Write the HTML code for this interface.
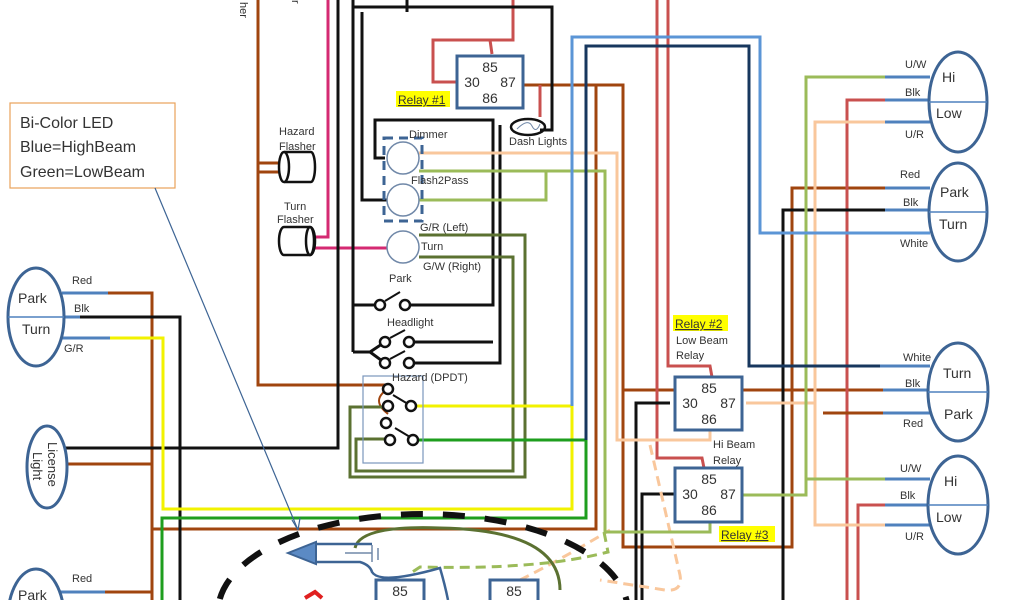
<!DOCTYPE html>
<html><head><meta charset="utf-8"><style>
html,body{margin:0;padding:0;background:#fff;width:1024px;height:600px;overflow:hidden;}
svg{display:block;}
text{font-family:"Liberation Sans",sans-serif;fill:#333;}
</style></head><body>
<svg width="1024" height="600" viewBox="0 0 1024 600" xmlns="http://www.w3.org/2000/svg">
<g fill="none" stroke-linejoin="miter">
<g stroke="#a0450f" stroke-width="3">
<polyline points="258,0 258,385 388,385"/>
<line x1="258" y1="163" x2="280" y2="163"/><line x1="258" y1="172" x2="280" y2="172"/>
<polyline points="523,85 623,85 623,547 792,547 792,188 885,188"/>
<polyline points="596,85 596,529 152,529"/>
<polyline points="108,293 152,293 152,600"/>
<line x1="66" y1="464" x2="152" y2="464"/>
<line x1="105" y1="592" x2="152" y2="592"/>
<polyline points="623,390 885,390"/>
<path d="M388,389 Q370,400 388,414" stroke-width="2"/>
</g>
<g stroke="#d42a72" stroke-width="3">
<polyline points="328,0 328,237 315,237"/>
<line x1="315" y1="248" x2="387" y2="248"/>
</g>
<g stroke="#c9504f" stroke-width="3">
<polyline points="457,82 433,82 433,40 513,40 513,0"/>
<line x1="490" y1="40" x2="492" y2="54"/>
<line x1="540" y1="85" x2="540" y2="117"/>
<polyline points="657,0 657,458 702,458 704,468"/>
<polyline points="668,0 668,366 710,366 712,377"/>
<polyline points="885,100 847,100 847,600"/>
<polyline points="885,505 858,505 858,600"/>
</g>
<g stroke="#111" stroke-width="3">
<polyline points="338,0 338,448 64,448"/>
<polyline points="353,0 353,352"/>
<polyline points="353,7 552,7 552,130 540,130"/>
<line x1="407" y1="0" x2="407" y2="12"/>
<polyline points="362,12 362,200 387,200"/>
<polyline points="385,158 375,158 375,120 493,120 493,305 408,305"/>
<polyline points="500,125 500,363 410,363"/>
<line x1="493" y1="342" x2="410" y2="342"/>
<line x1="353" y1="305" x2="380" y2="305"/>
<polyline points="353,352 370,352 385,342"/><polyline points="370,352 385,363"/>
<line x1="385" y1="301" x2="400" y2="292" stroke-width="2"/>
<line x1="390" y1="338" x2="405" y2="330" stroke-width="2"/>
<line x1="390" y1="359" x2="405" y2="351" stroke-width="2"/>
<line x1="393" y1="395" x2="408" y2="404" stroke-width="2"/>
<line x1="395" y1="428" x2="410" y2="437" stroke-width="2"/>
<polyline points="80,317 180,317 180,600"/>
<polyline points="670,403 636,403 636,600"/>
<polyline points="674,494 642,494 642,600"/>
<polyline points="885,210 783,210 783,600"/>
</g>
<g stroke="#f9c79c" stroke-width="3">
<polyline points="419,153 617,153 617,440 710,440 710,430"/>
<polyline points="885,122 815,122 815,525 885,525"/>
<line x1="746" y1="403" x2="815" y2="403"/>
<path d="M650,445 L680,575 Q683,592 665,590 L600,580" stroke-dasharray="10,6"/>
<path d="M520,580 Q560,560 610,530" stroke-dasharray="10,6"/>
</g>
<g stroke="#9bbb59" stroke-width="3">
<polyline points="419,171 605,171 605,532 710,532 710,522"/>
<polyline points="419,200 546,200 546,171"/>
<polyline points="885,77 806,77 806,495 742,495"/>
<line x1="806" y1="479" x2="885" y2="479"/>
<path d="M604,532 L608,552 Q540,570 420,567 L408,575" stroke-dasharray="10,6"/>
</g>
<g stroke="#5b7131" stroke-width="3">
<polyline points="419,235 525,235 525,477 350,477 350,407 388,407"/>
<polyline points="419,257 513,257 513,471 356,471 356,439 390,439"/>
<path d="M355,548 Q360,525 440,528 Q560,530 560,590"/>
</g>
<polyline points="411,406 572,406 572,509 163,509 163,338 110,338" stroke="#f2f200" stroke-width="3"/>
<polyline points="413,440 586,440 586,518 162,518 162,600" stroke="#1e9e1e" stroke-width="3"/>
<polyline points="572,406 572,37 760,37 760,233 930,233" stroke="#5b95d6" stroke-width="3"/>
<polyline points="586,440 586,46 749,46 749,366 930,366" stroke="#17375e" stroke-width="3"/>
<g stroke="#4f81bd" stroke-width="3">
<line x1="885" y1="77" x2="930" y2="77"/><line x1="885" y1="100" x2="930" y2="100"/><line x1="885" y1="122" x2="930" y2="122"/>
<line x1="885" y1="188" x2="930" y2="188"/><line x1="885" y1="210" x2="930" y2="210"/>
<line x1="880" y1="366" x2="930" y2="366"/><line x1="883" y1="390" x2="930" y2="390"/><line x1="883" y1="413" x2="930" y2="413"/>
<line x1="885" y1="479" x2="930" y2="479"/><line x1="885" y1="505" x2="930" y2="505"/><line x1="885" y1="525" x2="930" y2="525"/>
<line x1="62" y1="293" x2="108" y2="293"/><line x1="62" y1="317" x2="80" y2="317"/><line x1="60" y1="338" x2="110" y2="338"/>
<line x1="60" y1="592" x2="105" y2="592"/>
</g>
<polyline points="823,413 883,413" stroke="#a0450f" stroke-width="3"/>
<g stroke="#3d6494" stroke-width="3" fill="#fff">
<ellipse cx="958" cy="102" rx="29" ry="50"/>
<ellipse cx="958" cy="212" rx="29" ry="49"/>
<ellipse cx="958" cy="392" rx="30" ry="49"/>
<ellipse cx="958" cy="505" rx="30" ry="49"/>
<ellipse cx="36" cy="317" rx="28" ry="49"/>
<ellipse cx="47" cy="467" rx="20" ry="41"/>
<ellipse cx="36" cy="618" rx="28" ry="49"/>
</g>
<g stroke="#4f81bd" stroke-width="1.5">
<line x1="929" y1="102" x2="987" y2="102"/><line x1="929" y1="212" x2="987" y2="212"/>
<line x1="928" y1="392" x2="988" y2="392"/><line x1="928" y1="505" x2="988" y2="505"/>
<line x1="8" y1="317" x2="64" y2="317"/>
</g>
<g stroke="#7088a8" stroke-width="1.5" fill="#fff">
<circle cx="403" cy="158" r="16"/><circle cx="403" cy="200" r="16"/><circle cx="403" cy="247" r="16"/>
</g>
<rect x="384" y="138" width="38" height="83" stroke="#3d6494" stroke-width="3" stroke-dasharray="9,6"/>
<g stroke="#3d6494" stroke-width="3" fill="#fff">
<rect x="457" y="56" width="66" height="52"/>
<rect x="675" y="377" width="67" height="53"/>
<rect x="675" y="468" width="67" height="54"/>
<rect x="376" y="580" width="48" height="30"/>
<rect x="490" y="580" width="48" height="30"/>
</g>
<rect x="363" y="376" width="60" height="87" stroke="#7a96bc" stroke-width="1.2"/>
<g stroke="#111" stroke-width="2.5" fill="#fff">
<circle cx="380" cy="305" r="5"/><circle cx="405" cy="305" r="5"/>
<circle cx="385" cy="342" r="5"/><circle cx="409" cy="342" r="5"/>
<circle cx="385" cy="363" r="5"/><circle cx="409" cy="363" r="5"/>
<circle cx="388" cy="389" r="5"/><circle cx="388" cy="406" r="5"/><circle cx="411" cy="406" r="5"/>
<circle cx="386" cy="423" r="5"/><circle cx="390" cy="440" r="5"/><circle cx="413" cy="440" r="5"/>
</g>
<g stroke="#111" stroke-width="2.5" fill="#fff">
<path d="M284,152 H311 A4,15 0 0 1 311,182 H284"/><ellipse cx="284" cy="167" rx="5" ry="15"/>
<path d="M284,227 H310 A5,14 0 0 1 310,255 H284 A5,14 0 0 1 284,227"/><ellipse cx="310" cy="241" rx="4" ry="14"/>
</g>
<ellipse cx="528" cy="127" rx="17" ry="8" stroke="#111" stroke-width="2.5"/>
<path d="M517,129 Q528,118 532,126 Q536,134 540,124" stroke="#7088a8" stroke-width="1"/>
<rect x="10" y="103" width="165" height="85" stroke="#e8a25b" stroke-width="1.2"/>
<line x1="155" y1="188" x2="298" y2="530" stroke="#3d6494" stroke-width="1.2"/>
<path d="M298,530 L292,520 M298,530 L300,518" stroke="#3d6494" stroke-width="1.2"/>
<ellipse cx="423" cy="612" rx="205" ry="98" stroke="#111" stroke-width="6" stroke-dasharray="22,20"/>
<path d="M288,553 L316,542 L316,564 Z" fill="#5b8ac4" stroke="#3d6494" stroke-width="2"/>
<path d="M316,544 H372 M316,562 H360 Q370,565 372,572 Q380,585 440,568 Q445,585 448,600" stroke="#3d6494" stroke-width="2.5"/>
<line x1="372" y1="545" x2="372" y2="562" stroke="#7088a8" stroke-width="1.5"/>
<line x1="378" y1="548" x2="378" y2="560" stroke="#7088a8" stroke-width="1.5"/>
<line x1="345" y1="553" x2="372" y2="553" stroke="#7088a8" stroke-width="1.5"/>
<path d="M305,598 L315,592 L322,598" stroke="#e02020" stroke-width="4"/>
</g>
<g font-size="11">
<text x="905" y="68">U/W</text><text x="905" y="96">Blk</text><text x="905" y="138">U/R</text>
<text x="900" y="178">Red</text><text x="903" y="206">Blk</text><text x="900" y="247">White</text>
<text x="903" y="361">White</text><text x="905" y="387">Blk</text><text x="903" y="427">Red</text>
<text x="900" y="472">U/W</text><text x="900" y="499">Blk</text><text x="905" y="540">U/R</text>
<text x="72" y="284">Red</text><text x="74" y="312">Blk</text><text x="64" y="352">G/R</text>
<text x="72" y="582">Red</text>
<text x="409" y="138">Dimmer</text><text x="411" y="184">Flash2Pass</text>
<text x="420" y="231">G/R (Left)</text><text x="421" y="250">Turn</text><text x="423" y="270">G/W (Right)</text>
<text x="389" y="282">Park</text><text x="387" y="326">Headlight</text><text x="392" y="381">Hazard (DPDT)</text>
<text x="279" y="135">Hazard</text><text x="279" y="150">Flasher</text>
<text x="284" y="210">Turn</text><text x="277" y="223">Flasher</text>
<text x="509" y="145">Dash Lights</text>
<text x="676" y="344">Low Beam</text><text x="676" y="359">Relay</text>
<text x="713" y="448">Hi Beam</text><text x="713" y="464">Relay</text>
</g>
<g font-size="14" fill="#222">
<text x="942" y="82">Hi</text><text x="936" y="118">Low</text>
<text x="940" y="197">Park</text><text x="939" y="229">Turn</text>
<text x="943" y="378">Turn</text><text x="944" y="419">Park</text>
<text x="944" y="486">Hi</text><text x="936" y="522">Low</text>
<text x="18" y="303">Park</text><text x="22" y="334">Turn</text>
<text x="18" y="600">Park</text>
<text transform="translate(48,442) rotate(90)" font-size="13">License</text>
<text transform="translate(33,452) rotate(90)" font-size="13">Light</text>
</g>
<g font-size="14" text-anchor="middle">
<text x="490" y="72">85</text><text x="472" y="87">30</text><text x="508" y="87">87</text><text x="490" y="103">86</text>
<text x="709" y="393">85</text><text x="690" y="408">30</text><text x="728" y="408">87</text><text x="709" y="424">86</text>
<text x="709" y="484">85</text><text x="690" y="499">30</text><text x="728" y="499">87</text><text x="709" y="515">86</text>
<text x="400" y="596">85</text><text x="514" y="596">85</text>
</g>
<rect x="396" y="91" width="54" height="16" fill="#ffff00"/>
<text x="398" y="104" font-size="12" text-decoration="underline" fill="#222">Relay #1</text>
<rect x="673" y="315" width="55" height="16" fill="#ffff00"/>
<text x="675" y="328" font-size="12" text-decoration="underline" fill="#222">Relay #2</text>
<rect x="719" y="526" width="56" height="16" fill="#ffff00"/>
<text x="721" y="539" font-size="12" text-decoration="underline" fill="#222">Relay #3</text>
<g font-size="16" fill="#333">
<text x="20" y="128">Bi-Color LED</text><text x="20" y="152">Blue=HighBeam</text><text x="20" y="177">Green=LowBeam</text>
</g>
<text transform="translate(240,2) rotate(90)" font-size="11">her</text>
<text transform="translate(292,0) rotate(90)" font-size="11">r</text>
</svg>
</body></html>
